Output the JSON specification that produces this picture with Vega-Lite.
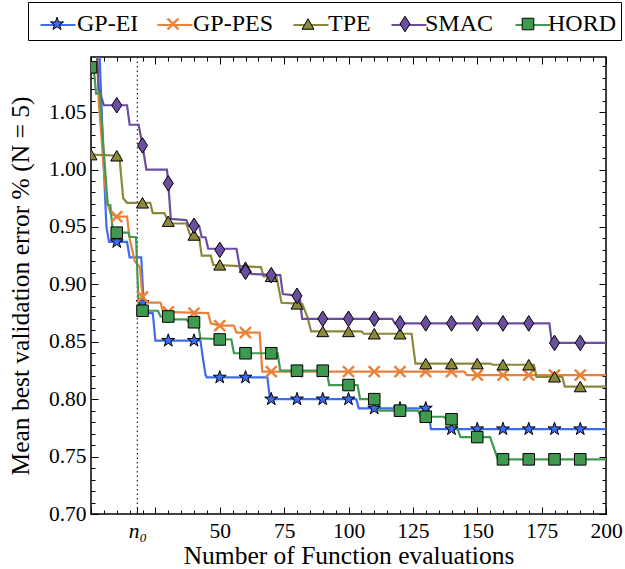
{
  "$schema": "https://vega.github.io/schema/vega-lite/v6.json",
  "width": 515,
  "height": 457,
  "autosize": {"type": "none"},
  "padding": {"left": 91, "top": 57, "right": 19, "bottom": 55},
  "background": "white",
  "config": {
    "view": {"stroke": "black", "strokeWidth": 1.5},
    "font": "Liberation Serif",
    "axis": {"labelFont": "Liberation Serif", "titleFont": "Liberation Serif", "labelColor": "black", "titleColor": "black", "tickColor": "black", "domain": false, "grid": false, "labelFontSize": 21.5, "titleFontSize": 25.5, "titleFontWeight": "normal", "tickWidth": 1, "labelOverlap": false, "labelFlush": false},
    "legend": {"labelFont": "Liberation Serif", "labelFontSize": 24, "labelColor": "black", "labelLimit": 0}
  },
  "datasets": {
    "lines": [
      {"m":"GP-EI","x":0,"y":1.25},{"m":"GP-EI","x":3,"y":1.12},{"m":"GP-EI","x":4,"y":1.06},{"m":"GP-EI","x":5,"y":1.0},{"m":"GP-EI","x":6,"y":0.95},{"m":"GP-EI","x":7,"y":0.937},{"m":"GP-EI","x":14,"y":0.937},{"m":"GP-EI","x":15,"y":0.9235},{"m":"GP-EI","x":19.5,"y":0.9235},{"m":"GP-EI","x":20.5,"y":0.882},{"m":"GP-EI","x":21.5,"y":0.875},{"m":"GP-EI","x":24,"y":0.875},{"m":"GP-EI","x":25,"y":0.851},{"m":"GP-EI","x":42.5,"y":0.851},{"m":"GP-EI","x":43.5,"y":0.835},{"m":"GP-EI","x":44.5,"y":0.821},{"m":"GP-EI","x":45,"y":0.819},{"m":"GP-EI","x":68.5,"y":0.819},{"m":"GP-EI","x":69.5,"y":0.8},{"m":"GP-EI","x":103,"y":0.8},{"m":"GP-EI","x":104,"y":0.792},{"m":"GP-EI","x":131,"y":0.792},{"m":"GP-EI","x":132,"y":0.774},{"m":"GP-EI","x":200,"y":0.774},
      {"m":"GP-PES","x":0,"y":1.25},{"m":"GP-PES","x":2,"y":1.12},{"m":"GP-PES","x":3,"y":1.06},{"m":"GP-PES","x":4,"y":1.03},{"m":"GP-PES","x":5,"y":1.0},{"m":"GP-PES","x":6,"y":0.975},{"m":"GP-PES","x":7.5,"y":0.962},{"m":"GP-PES","x":10,"y":0.959},{"m":"GP-PES","x":14,"y":0.959},{"m":"GP-PES","x":15,"y":0.94},{"m":"GP-PES","x":17,"y":0.92},{"m":"GP-PES","x":19,"y":0.915},{"m":"GP-PES","x":20,"y":0.889},{"m":"GP-PES","x":21,"y":0.884},{"m":"GP-PES","x":27,"y":0.884},{"m":"GP-PES","x":28,"y":0.876},{"m":"GP-PES","x":45.5,"y":0.875},{"m":"GP-PES","x":46.5,"y":0.866},{"m":"GP-PES","x":50,"y":0.864},{"m":"GP-PES","x":55.5,"y":0.864},{"m":"GP-PES","x":56.5,"y":0.858},{"m":"GP-PES","x":65.5,"y":0.858},{"m":"GP-PES","x":66.5,"y":0.824},{"m":"GP-PES","x":145,"y":0.824},{"m":"GP-PES","x":146,"y":0.821},{"m":"GP-PES","x":200,"y":0.821},
      {"m":"TPE","x":0,"y":1.013},{"m":"TPE","x":11,"y":1.012},{"m":"TPE","x":12.5,"y":0.975},{"m":"TPE","x":14,"y":0.971},{"m":"TPE","x":23,"y":0.971},{"m":"TPE","x":24,"y":0.962},{"m":"TPE","x":28.5,"y":0.962},{"m":"TPE","x":30,"y":0.955},{"m":"TPE","x":30.5,"y":0.953},{"m":"TPE","x":37,"y":0.953},{"m":"TPE","x":38.5,"y":0.943},{"m":"TPE","x":42,"y":0.941},{"m":"TPE","x":43,"y":0.925},{"m":"TPE","x":46.5,"y":0.925},{"m":"TPE","x":47.5,"y":0.917},{"m":"TPE","x":66,"y":0.915},{"m":"TPE","x":67,"y":0.907},{"m":"TPE","x":72,"y":0.907},{"m":"TPE","x":74,"y":0.884},{"m":"TPE","x":82,"y":0.883},{"m":"TPE","x":84,"y":0.872},{"m":"TPE","x":85.5,"y":0.859},{"m":"TPE","x":105,"y":0.859},{"m":"TPE","x":106,"y":0.857},{"m":"TPE","x":124.5,"y":0.857},{"m":"TPE","x":126,"y":0.831},{"m":"TPE","x":155,"y":0.831},{"m":"TPE","x":156,"y":0.83},{"m":"TPE","x":172,"y":0.83},{"m":"TPE","x":173,"y":0.8195},{"m":"TPE","x":183,"y":0.8195},{"m":"TPE","x":184,"y":0.811},{"m":"TPE","x":200,"y":0.811},
      {"m":"SMAC","x":0,"y":1.25},{"m":"SMAC","x":2,"y":1.12},{"m":"SMAC","x":3,"y":1.07},{"m":"SMAC","x":5,"y":1.056},{"m":"SMAC","x":14,"y":1.056},{"m":"SMAC","x":15,"y":1.039},{"m":"SMAC","x":18.5,"y":1.039},{"m":"SMAC","x":20,"y":1.021},{"m":"SMAC","x":21.5,"y":1.0},{"m":"SMAC","x":29.5,"y":1.0},{"m":"SMAC","x":30,"y":0.988},{"m":"SMAC","x":31,"y":0.957},{"m":"SMAC","x":37,"y":0.956},{"m":"SMAC","x":38,"y":0.951},{"m":"SMAC","x":42,"y":0.951},{"m":"SMAC","x":43,"y":0.941},{"m":"SMAC","x":44.5,"y":0.941},{"m":"SMAC","x":45.5,"y":0.931},{"m":"SMAC","x":56.5,"y":0.931},{"m":"SMAC","x":58,"y":0.912},{"m":"SMAC","x":61,"y":0.911},{"m":"SMAC","x":62,"y":0.909},{"m":"SMAC","x":73.5,"y":0.908},{"m":"SMAC","x":74.5,"y":0.8915},{"m":"SMAC","x":81,"y":0.89},{"m":"SMAC","x":82,"y":0.87},{"m":"SMAC","x":117,"y":0.87},{"m":"SMAC","x":118,"y":0.866},{"m":"SMAC","x":178,"y":0.866},{"m":"SMAC","x":179,"y":0.849},{"m":"SMAC","x":200,"y":0.849},
      {"m":"HORD","x":0,"y":1.089},{"m":"HORD","x":1,"y":1.089},{"m":"HORD","x":2,"y":1.066},{"m":"HORD","x":3.5,"y":1.066},{"m":"HORD","x":4.5,"y":1.03},{"m":"HORD","x":6.5,"y":0.969},{"m":"HORD","x":7.5,"y":0.969},{"m":"HORD","x":8.5,"y":0.945},{"m":"HORD","x":14.5,"y":0.945},{"m":"HORD","x":15,"y":0.9414},{"m":"HORD","x":17.5,"y":0.941},{"m":"HORD","x":18.5,"y":0.88},{"m":"HORD","x":20,"y":0.877},{"m":"HORD","x":26,"y":0.877},{"m":"HORD","x":27,"y":0.872},{"m":"HORD","x":31,"y":0.871},{"m":"HORD","x":32,"y":0.8695},{"m":"HORD","x":37,"y":0.8695},{"m":"HORD","x":38,"y":0.867},{"m":"HORD","x":41.5,"y":0.867},{"m":"HORD","x":42.5,"y":0.853},{"m":"HORD","x":54.5,"y":0.852},{"m":"HORD","x":55.5,"y":0.84},{"m":"HORD","x":72.5,"y":0.84},{"m":"HORD","x":73.5,"y":0.8248},{"m":"HORD","x":91.5,"y":0.8248},{"m":"HORD","x":92.5,"y":0.8123},{"m":"HORD","x":103.5,"y":0.8123},{"m":"HORD","x":104.5,"y":0.8},{"m":"HORD","x":111,"y":0.8},{"m":"HORD","x":112,"y":0.79},{"m":"HORD","x":127,"y":0.79},{"m":"HORD","x":128,"y":0.7847},{"m":"HORD","x":137,"y":0.7847},{"m":"HORD","x":138,"y":0.7825},{"m":"HORD","x":141,"y":0.7825},{"m":"HORD","x":143.5,"y":0.767},{"m":"HORD","x":155,"y":0.767},{"m":"HORD","x":158,"y":0.7476},{"m":"HORD","x":200,"y":0.7476}
    ],
    "pts": [
      {"m":"GP-EI","x":10,"y":0.937},{"m":"GP-EI","x":20,"y":0.884},{"m":"GP-EI","x":30,"y":0.851},{"m":"GP-EI","x":40,"y":0.851},{"m":"GP-EI","x":50,"y":0.819},{"m":"GP-EI","x":60,"y":0.819},{"m":"GP-EI","x":70,"y":0.8},{"m":"GP-EI","x":80,"y":0.8},{"m":"GP-EI","x":90,"y":0.8},{"m":"GP-EI","x":100,"y":0.8},{"m":"GP-EI","x":110,"y":0.792},{"m":"GP-EI","x":120,"y":0.792},{"m":"GP-EI","x":130,"y":0.792},{"m":"GP-EI","x":140,"y":0.774},{"m":"GP-EI","x":150,"y":0.774},{"m":"GP-EI","x":160,"y":0.774},{"m":"GP-EI","x":170,"y":0.774},{"m":"GP-EI","x":180,"y":0.774},{"m":"GP-EI","x":190,"y":0.774},
      {"m":"GP-PES","x":10,"y":0.959},{"m":"GP-PES","x":20,"y":0.889},{"m":"GP-PES","x":30,"y":0.876},{"m":"GP-PES","x":40,"y":0.875},{"m":"GP-PES","x":50,"y":0.864},{"m":"GP-PES","x":60,"y":0.858},{"m":"GP-PES","x":70,"y":0.824},{"m":"GP-PES","x":80,"y":0.824},{"m":"GP-PES","x":90,"y":0.824},{"m":"GP-PES","x":100,"y":0.824},{"m":"GP-PES","x":110,"y":0.824},{"m":"GP-PES","x":120,"y":0.824},{"m":"GP-PES","x":130,"y":0.824},{"m":"GP-PES","x":140,"y":0.824},{"m":"GP-PES","x":150,"y":0.821},{"m":"GP-PES","x":160,"y":0.821},{"m":"GP-PES","x":170,"y":0.821},{"m":"GP-PES","x":180,"y":0.821},{"m":"GP-PES","x":190,"y":0.821},
      {"m":"TPE","x":0,"y":1.013},{"m":"TPE","x":10,"y":1.012},{"m":"TPE","x":20,"y":0.971},{"m":"TPE","x":30,"y":0.955},{"m":"TPE","x":40,"y":0.943},{"m":"TPE","x":50,"y":0.917},{"m":"TPE","x":60,"y":0.915},{"m":"TPE","x":70,"y":0.907},{"m":"TPE","x":80,"y":0.883},{"m":"TPE","x":90,"y":0.859},{"m":"TPE","x":100,"y":0.859},{"m":"TPE","x":110,"y":0.857},{"m":"TPE","x":120,"y":0.857},{"m":"TPE","x":130,"y":0.831},{"m":"TPE","x":140,"y":0.831},{"m":"TPE","x":150,"y":0.831},{"m":"TPE","x":160,"y":0.83},{"m":"TPE","x":170,"y":0.83},{"m":"TPE","x":180,"y":0.8195},{"m":"TPE","x":190,"y":0.811},
      {"m":"SMAC","x":10,"y":1.056},{"m":"SMAC","x":20,"y":1.021},{"m":"SMAC","x":30,"y":0.988},{"m":"SMAC","x":40,"y":0.951},{"m":"SMAC","x":50,"y":0.93},{"m":"SMAC","x":60,"y":0.911},{"m":"SMAC","x":70,"y":0.908},{"m":"SMAC","x":80,"y":0.89},{"m":"SMAC","x":90,"y":0.87},{"m":"SMAC","x":100,"y":0.87},{"m":"SMAC","x":110,"y":0.87},{"m":"SMAC","x":120,"y":0.866},{"m":"SMAC","x":130,"y":0.866},{"m":"SMAC","x":140,"y":0.866},{"m":"SMAC","x":150,"y":0.866},{"m":"SMAC","x":160,"y":0.866},{"m":"SMAC","x":170,"y":0.866},{"m":"SMAC","x":180,"y":0.849},{"m":"SMAC","x":190,"y":0.849},
      {"m":"HORD","x":0,"y":1.089},{"m":"HORD","x":10,"y":0.945},{"m":"HORD","x":20,"y":0.877},{"m":"HORD","x":30,"y":0.872},{"m":"HORD","x":40,"y":0.867},{"m":"HORD","x":50,"y":0.852},{"m":"HORD","x":60,"y":0.84},{"m":"HORD","x":70,"y":0.84},{"m":"HORD","x":80,"y":0.8248},{"m":"HORD","x":90,"y":0.8248},{"m":"HORD","x":100,"y":0.8123},{"m":"HORD","x":110,"y":0.8},{"m":"HORD","x":120,"y":0.79},{"m":"HORD","x":130,"y":0.7847},{"m":"HORD","x":140,"y":0.7825},{"m":"HORD","x":150,"y":0.767},{"m":"HORD","x":160,"y":0.7476},{"m":"HORD","x":170,"y":0.7476},{"m":"HORD","x":180,"y":0.7476},{"m":"HORD","x":190,"y":0.7476}
    ],
    "n0": [{"n0": 18}]
  },
  "resolve": {"axis": {"x": "independent", "y": "independent"}},
  "layer": [
    {
      "data": {"name": "n0"},
      "mark": {"type": "rule", "color": "#333333", "strokeWidth": 1.3, "strokeDash": [1.5, 3]},
      "encoding": {
        "x": {"field": "n0", "type": "quantitative", "axis": null, "scale": {"domain": [0, 200], "nice": false, "zero": false}}
      }
    },
    {
      "data": {"name": "lines"},
      "mark": {"type": "line", "strokeWidth": 2.2, "clip": true, "interpolate": "linear"},
      "encoding": {
        "x": {"field": "x", "type": "quantitative", "scale": {"domain": [0, 200], "nice": false, "zero": false},
          "axis": {"orient": "bottom", "values": [0,5,10,15,18,20,25,30,35,40,45,50,55,60,65,70,75,80,85,90,95,100,105,110,115,120,125,130,135,140,145,150,155,160,165,170,175,180,185,190,195,200],
            "title": "Number of Function evaluations", "titlePadding": -1,
            "labelExpr": "datum.value == 18 ? 'n₀' : (datum.value >= 50 && datum.value % 25 == 0 ? datum.label : '')",
            "labelFontStyle": {"condition": {"test": "datum.value == 18", "value": "italic"}, "value": "normal"},
            "tickSize": {"condition": {"test": "datum.value % 25 == 0 || datum.value == 18", "value": -7}, "value": -4},
            "labelPadding": 13}},
        "y": {"field": "y", "type": "quantitative", "scale": {"domain": [0.7, 1.098], "nice": false, "zero": false},
          "axis": {"orient": "left", "values": [0.70,0.71,0.72,0.73,0.74,0.75,0.76,0.77,0.78,0.79,0.80,0.81,0.82,0.83,0.84,0.85,0.86,0.87,0.88,0.89,0.90,0.91,0.92,0.93,0.94,0.95,0.96,0.97,0.98,0.99,1.00,1.01,1.02,1.03,1.04,1.05,1.06,1.07,1.08,1.09],
            "title": "Mean best validation error % (N = 5)", "titlePadding": 15,
            "labelExpr": "round(datum.value*100) % 5 == 0 ? format(datum.value, '.2f') : ''",
            "tickSize": {"condition": {"test": "round(datum.value*100) % 5 == 0", "value": -7}, "value": -4},
            "labelPadding": 12}},
        "color": {"field": "m", "type": "nominal", "sort": ["GP-EI", "GP-PES", "TPE", "SMAC", "HORD"],
          "scale": {"range": ["#3d6cf0", "#e8823a", "#8b883b", "#6b4ea0", "#3f9a50"]},
          "legend": {"orient": "none", "legendX": -63, "legendY": -55, "direction": "horizontal", "title": null, "symbolType": "stroke", "symbolSize": 1225, "symbolStrokeWidth": 2.2, "symbolOffset": 7, "labelOpacity": 0, "labelOffset": 1, "columnPadding": 9, "padding": 4, "rowPadding": 0}}
      }
    },
    {
      "data": {"name": "pts"},
      "mark": {"type": "point", "filled": true, "size": 1225, "strokeWidth": 1, "opacity": 1, "clip": true},
      "encoding": {
        "x": {"field": "x", "type": "quantitative", "scale": {"domain": [0, 200], "nice": false, "zero": false},
          "axis": {"orient": "top", "values": [0,5,10,15,20,25,30,35,40,45,50,55,60,65,70,75,80,85,90,95,100,105,110,115,120,125,130,135,140,145,150,155,160,165,170,175,180,185,190,195,200],
            "labels": false, "title": null,
            "tickSize": {"condition": {"test": "datum.value % 25 == 0", "value": -7}, "value": -4}}},
        "y": {"field": "y", "type": "quantitative", "scale": {"domain": [0.7, 1.098], "nice": false, "zero": false},
          "axis": {"orient": "right", "values": [0.70,0.71,0.72,0.73,0.74,0.75,0.76,0.77,0.78,0.79,0.80,0.81,0.82,0.83,0.84,0.85,0.86,0.87,0.88,0.89,0.90,0.91,0.92,0.93,0.94,0.95,0.96,0.97,0.98,0.99,1.00,1.01,1.02,1.03,1.04,1.05,1.06,1.07,1.08,1.09],
            "labels": false, "title": null,
            "tickSize": {"condition": {"test": "round(datum.value*100) % 5 == 0", "value": -7}, "value": -4}}},
        "fill": {"field": "m", "type": "nominal",
          "scale": {"domain": ["GP-EI", "GP-PES", "TPE", "SMAC", "HORD"], "range": ["#3d6cf0", "#e8823a", "#8b883b", "#6b4ea0", "#3f9a50"]},
          "legend": {"orient": "none", "legendX": -63, "legendY": -55, "direction": "horizontal", "title": null, "symbolSize": 1225, "symbolStrokeWidth": 1, "symbolOffset": 7, "labelOffset": 2, "columnPadding": 9, "padding": 4, "rowPadding": 0, "strokeColor": "black", "symbolOpacity": 1}},
        "stroke": {"field": "m", "type": "nominal",
          "scale": {"domain": ["GP-EI", "GP-PES", "TPE", "SMAC", "HORD"], "range": ["black", "#e8823a", "black", "black", "black"]},
          "legend": {"orient": "none", "legendX": -63, "legendY": -55, "direction": "horizontal", "title": null, "symbolSize": 1225, "symbolStrokeWidth": 1, "symbolOffset": 7, "labelOffset": 2, "columnPadding": 9, "padding": 4, "rowPadding": 0, "strokeColor": "black", "symbolOpacity": 1}},
        "shape": {"field": "m", "type": "nominal",
          "scale": {"domain": ["GP-EI", "GP-PES", "TPE", "SMAC", "HORD"], "range": [
            "M0,-0.39L0.088,-0.12L0.371,-0.12L0.142,0.046L0.229,0.316L0,0.149L-0.229,0.316L-0.142,0.046L-0.371,-0.12L-0.088,-0.12Z",
            "M0,-0.07L0.265,-0.335L0.335,-0.265L0.07,0L0.335,0.265L0.265,0.335L0,0.07L-0.265,0.335L-0.335,0.265L-0.07,0L-0.335,-0.265L-0.265,-0.335Z",
            "M0,-0.3L0.343,0.3L-0.343,0.3Z",
            "M0,-0.446L0.286,0L0,0.446L-0.286,0Z",
            "M-0.33,-0.33L0.33,-0.33L0.33,0.33L-0.33,0.33Z"]},
          "legend": {"orient": "none", "legendX": -63, "legendY": -55, "direction": "horizontal", "title": null, "symbolSize": 1225, "symbolStrokeWidth": 1, "symbolOffset": 7, "labelOffset": 2, "columnPadding": 9, "padding": 4, "rowPadding": 0, "strokeColor": "black", "symbolOpacity": 1}}
      }
    }
  ]
}
